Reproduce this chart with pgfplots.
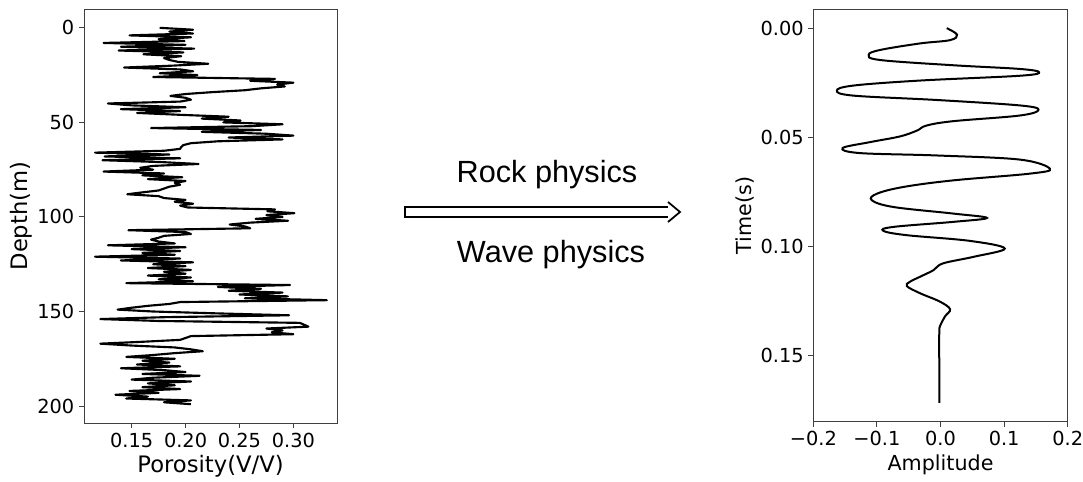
\documentclass[border=0pt]{standalone}
\usepackage{pgfplots}
\pgfplotsset{compat=1.18}
\usepackage{fontspec}
\setmainfont{DejaVu Sans}
\newfontfamily\arialfont{Liberation Sans}

\pgfplotstableread{
d p
0 0.176
1 0.207
2 0.185
3 0.207
4 0.148
5 0.205
6 0.175
7 0.199
8 0.124
9 0.200
10 0.140
11 0.208
12 0.138
13 0.198
14 0.161
15 0.196
16 0.180
17 0.185
18 0.193
19 0.221
20 0.188
21 0.143
22 0.195
23 0.207
24 0.176
25 0.211
26 0.170
27 0.283
28 0.260
29 0.300
30 0.285
31 0.292
32 0.270
33 0.255
34 0.225
35 0.200
36 0.186
37 0.200
38 0.205
39 0.195
40 0.128
41 0.150
42 0.200
43 0.140
44 0.195
45 0.155
46 0.195
47 0.240
48 0.215
49 0.251
50 0.235
51 0.290
52 0.262
53 0.168
54 0.270
55 0.215
56 0.275
57 0.300
58 0.240
59 0.290
60 0.230
61 0.205
62 0.198
63 0.196
64 0.195
65 0.180
66 0.116
67 0.185
68 0.125
69 0.195
70 0.123
71 0.178
72 0.212
73 0.170
74 0.158
75 0.170
76 0.124
77 0.180
78 0.160
79 0.197
80 0.165
81 0.200
82 0.190
83 0.195
84 0.185
85 0.180
86 0.175
87 0.160
88 0.146
89 0.175
90 0.180
91 0.200
92 0.190
93 0.207
94 0.195
95 0.202
96 0.283
97 0.276
98 0.301
99 0.275
100 0.290
101 0.265
102 0.295
103 0.260
104 0.241
105 0.255
106 0.260
107 0.147
108 0.200
109 0.205
110 0.180
111 0.175
112 0.168
113 0.175
114 0.190
115 0.128
116 0.200
117 0.150
118 0.195
119 0.160
120 0.190
121 0.116
122 0.195
123 0.140
124 0.207
125 0.170
126 0.200
127 0.165
128 0.205
129 0.180
130 0.200
131 0.165
132 0.205
133 0.175
134 0.207
135 0.145
136 0.297
137 0.230
138 0.270
139 0.240
140 0.290
141 0.250
142 0.295
143 0.255
144 0.331
145 0.195
146 0.185
147 0.165
148 0.150
149 0.137
150 0.170
151 0.230
152 0.296
153 0.180
154 0.121
155 0.175
156 0.306
157 0.310
158 0.314
159 0.275
160 0.290
161 0.280
162 0.300
163 0.205
164 0.200
165 0.195
166 0.160
167 0.121
168 0.150
169 0.190
170 0.205
171 0.216
172 0.190
173 0.170
174 0.145
175 0.190
176 0.160
177 0.185
178 0.155
179 0.195
180 0.140
181 0.180
182 0.200
183 0.160
184 0.213
185 0.170
186 0.150
187 0.205
188 0.165
189 0.190
190 0.160
191 0.195
192 0.148
193 0.175
194 0.135
195 0.165
196 0.145
197 0.205
198 0.180
199 0.205
}\porosity

\pgfplotstableread{
t a
0.0000 0.0097
0.0030 0.0260
0.0055 0.0150
0.0070 -0.0320
0.0100 -0.0950
0.0122 -0.1130
0.0146 -0.0950
0.0170 0.0200
0.0187 0.1250
0.0202 0.1550
0.0218 0.1250
0.0240 -0.0320
0.0263 -0.1370
0.0286 -0.1630
0.0309 -0.1370
0.0329 -0.0060
0.0354 0.1250
0.0374 0.1540
0.0400 0.1250
0.0426 0.0200
0.0446 -0.0220
0.0469 -0.0370
0.0496 -0.0640
0.0522 -0.1110
0.0549 -0.1540
0.0572 -0.1270
0.0583 -0.0060
0.0602 0.1250
0.0644 0.1720
0.0666 0.1410
0.0697 0.0200
0.0727 -0.0580
0.0758 -0.1000
0.0788 -0.1080
0.0819 -0.0740
0.0849 0.0200
0.0869 0.0730
0.0887 0.0200
0.0910 -0.0740
0.0928 -0.0900
0.0948 -0.0530
0.0974 0.0460
0.1009 0.1010
0.1047 0.0520
0.1077 0.0040
0.1108 -0.0110
0.1138 -0.0320
0.1161 -0.0480
0.1181 -0.0530
0.1214 -0.0320
0.1252 -0.0010
0.1287 0.0150
0.1320 0.0070
0.1366 -0.0010
0.1397 -0.0020
0.1549 -0.0020
0.1716 -0.0020
}\trace

\begin{document}
\begin{tikzpicture}
\path[use as bounding box] (0pt,0pt) rectangle (812.25pt,361.5pt);
\pgfplotsset{
  every axis/.append style={
    scale only axis,
    y dir=reverse,
    axis line style={black!75, line width=0.7pt},
    tick style={black!75, line width=0.7pt},
    tick align=outside,
    major tick length=3.75pt,
    xtick pos=bottom, ytick pos=left,
    ticklabel style={font=\fontsize{14.5}{16}\selectfont},
  }
}
\begin{axis}[
  at={(63pt,44.25pt)}, anchor=south west,
  width=189.75pt, height=310.5pt,
  xmin=0.1058, xmax=0.3405, ymin=-9.95, ymax=208.95,
  xtick={0.15,0.20,0.25,0.30}, xticklabels={0.15,0.20,0.25,0.30},
  ytick={0,50,100,150,200}, yticklabels={0,50,100,150,200},
  xlabel={Porosity(V/V)}, ylabel={Depth(m)},
  label style={font=\fontsize{17}{19}\selectfont},
  xlabel style={at={(axis description cs:0.5,-0.104)}, anchor=center},
  ylabel style={at={(axis description cs:-0.25,0.5)}, anchor=center, rotate=0},
]
\addplot[black, line width=1.6pt, line join=round] table[x=p,y=d] {\porosity};
\end{axis}

\begin{axis}[
  at={(610pt,45.2pt)}, anchor=south west,
  width=190.8pt, height=309.3pt,
  xmin=-0.2, xmax=0.2, ymin=-0.0086, ymax=0.1802,
  xtick={-0.2,-0.1,0,0.1,0.2}, xticklabels={−0.2,−0.1,0.0,0.1,0.2},
  ytick={0,0.05,0.10,0.15}, yticklabels={0.00,0.05,0.10,0.15},
  xlabel={Amplitude}, ylabel={Time(s)},
  label style={font=\fontsize{15.5}{18}\selectfont},
  xlabel style={at={(axis description cs:0.5,-0.105)}, anchor=center},
  ylabel style={at={(axis description cs:-0.27,0.5)}, anchor=center},
]
\addplot[black, line width=1.5pt, smooth, tension=0.6] table[x=a,y=t] {\trace};
\end{axis}

\begin{scope}[x=0.75pt,y=0.75pt]
\node[font=\arialfont\fontsize{23}{26}\selectfont] at (547,307) {Rock physics};
\node[font=\arialfont\fontsize{23}{26}\selectfont] at (551,227) {Wave physics};
\draw[line width=1.3pt, line join=miter]
  (668,275) -- (405,275) -- (405,265) -- (668,265);
\draw[line width=1.3pt, line join=miter] (668,280) -- (680,270) -- (668,260);
\end{scope}
\end{tikzpicture}
\end{document}
